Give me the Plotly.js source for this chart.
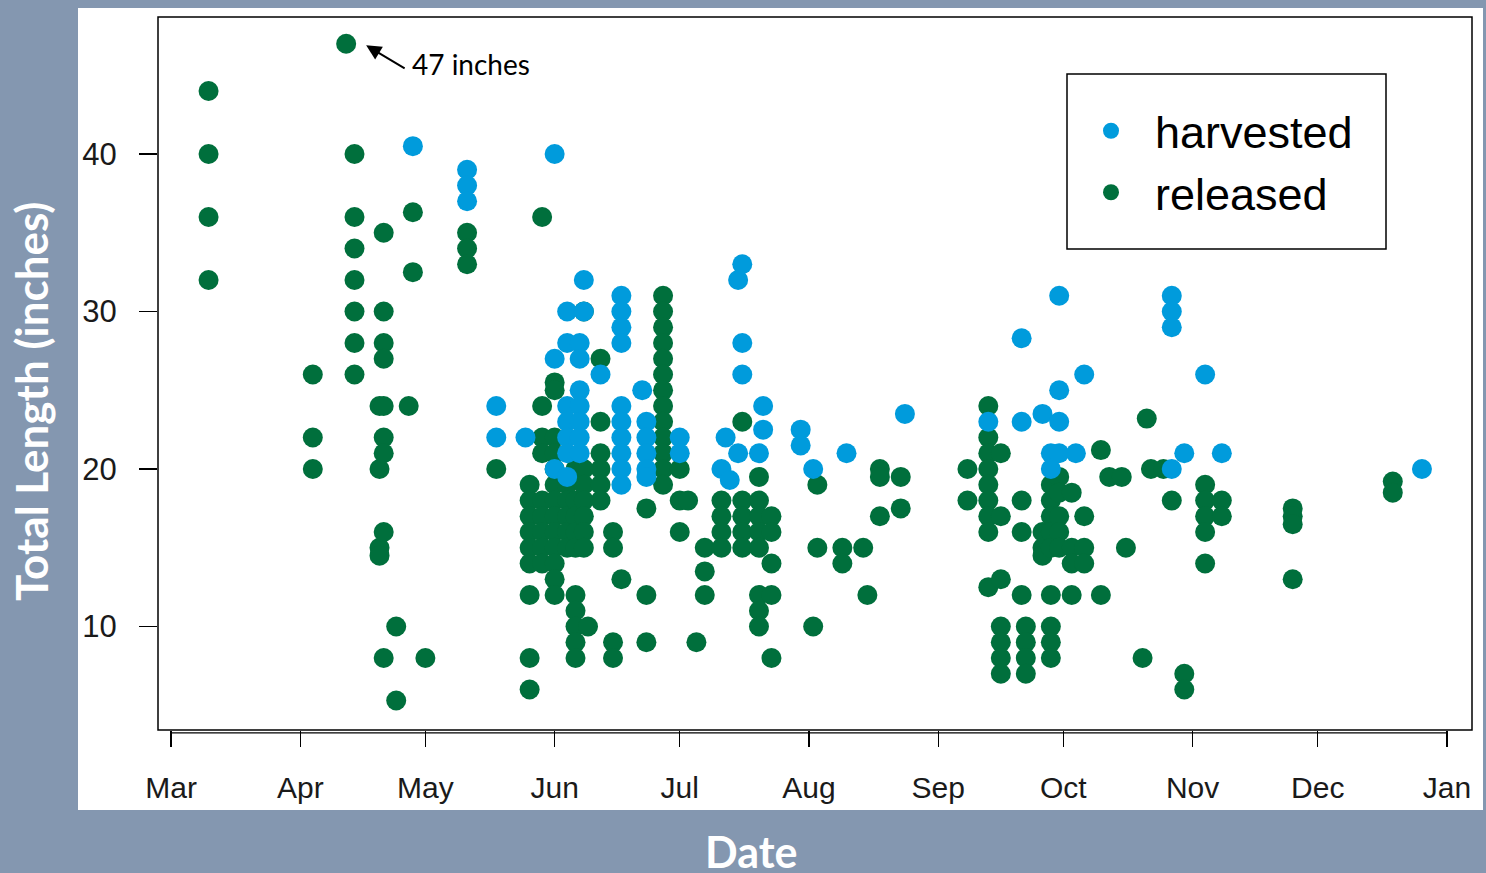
<!DOCTYPE html>
<html>
<head>
<meta charset="utf-8">
<script src="https://cdn.plot.ly/plotly-3.0.1.min.js"></script>
<style>
  html, body { margin: 0; padding: 0; background: #8497B0; }
  #chart { width: 1486px; height: 873px; }
</style>
</head>
<body>
<div id="chart"></div>
<script>
// ---- data ----
const releasedDays = ['2013-03-10','2013-04-04','2013-04-12','2013-04-14','2013-04-20','2013-04-21','2013-04-24','2013-04-27','2013-04-28','2013-05-01',
  '2013-05-11','2013-05-18','2013-05-26','2013-05-29','2013-06-01','2013-06-04','2013-06-06','2013-06-08','2013-06-09','2013-06-12',
  '2013-06-15','2013-06-17','2013-06-23','2013-06-27','2013-07-01','2013-07-03','2013-07-05','2013-07-07','2013-07-11','2013-07-16',
  '2013-07-20','2013-07-23','2013-08-02','2013-08-03','2013-08-09','2013-08-14','2013-08-15','2013-08-18','2013-08-23','2013-09-08',
  '2013-09-13','2013-09-16','2013-09-21','2013-09-22','2013-09-26','2013-09-28','2013-09-30','2013-10-03','2013-10-06','2013-10-10',
  '2013-10-12','2013-10-15','2013-10-16','2013-10-20','2013-10-21','2013-10-22','2013-10-25','2013-10-27','2013-10-30','2013-11-04',
  '2013-11-08','2013-11-25','2013-12-19'];
const releasedLengths = [
  [44,40,36,32],[26,22,20],[47],[40,36,34,32,30,28,26],[24,20,15,14.5],[35,30,28,27,24,22,21,16,8],[10,5.3],[24],[36.3,32.5],[8],
  [35,34,33],[20],[19,18,17,16,15,14,12,8,6],[36,24,22,21,18,17,16,15,14],[25.5,25,22,21,20,19,18,17,16,15,14,13,12],[19,18,17,16,15],[20,18,17,16,15,12,11,10,9,8],[30,20,19,18,17,16,15],[10],[27,23,21,20,19,18],
  [16,15,9,8],[13],[17.5,12,9],[31,30,29,28,27,26,25,24,23,22,21,20,19],[20,18,16],[18],[9],[15,13.5,12],[18,17,16,15],[23,18,17,16,15],
  [19.5,18,17,16,15,12,11,10],[17,16,14,12,8],[10],[19,15],[15,14],[15],[12],[20,19.5,17],[19.5,17.5],[20,18],
  [24,22,21,20,19,18,17,16,12.5],[21,17,13,10,9,8,7],[18,16,12],[10,9,8,7],[16,15,14.5],[19,18,17,16,15,12,10,9,8],[19.5,18.5,17,16,15],[18.5,15,14,12],[17,15,14],[21.2,12],
  [19.5],[19.5],[15],[8],[23.2],[20],[20],[18],[7,6],[19,18,17,16,14],
  [18,17],[17.5,17,16.5,13],[19.2,18.5]];

const harvestedDays = ['2013-04-28','2013-05-11','2013-05-18','2013-05-25','2013-06-01','2013-06-04','2013-06-07','2013-06-08','2013-06-12','2013-06-17',
  '2013-06-22','2013-06-23','2013-07-01','2013-07-11','2013-07-12','2013-07-13','2013-07-15','2013-07-16','2013-07-20','2013-07-21',
  '2013-07-30','2013-08-02','2013-08-10','2013-08-24','2013-09-13','2013-09-21','2013-09-26','2013-09-28','2013-09-30','2013-10-04',
  '2013-10-06','2013-10-27','2013-10-30','2013-11-04','2013-11-08','2013-12-26'];
const harvestedLengths = [
  [40.5],[39,38,37],[24,22],[22],[40,27,20],[30,28,24,23,22,21,19.5],[28,27,25,24,23,22,21],[32,30],[26],[31,30,29,28,24,23,22,21,20,19],
  [25],[23,22,21,20,19.5],[22,21],[20],[22],[19.3],[32,21],[33,28,26],[21],[24,22.5],
  [22.5,21.5],[20],[21],[23.5],[23],[28.3,23],[23.5],[21,20],[31,25,23,21],[21],
  [26],[31,30,29,20],[21],[26],[21],[20]];

const monthTicks = ['2013-03-01','2013-04-01','2013-05-01','2013-06-01','2013-07-01','2013-08-01','2013-09-01','2013-10-01','2013-11-01','2013-12-01','2014-01-01'];
const monthLabels = ['Mar','Apr','May','Jun','Jul','Aug','Sep','Oct','Nov','Dec','Jan'];
const lengthTicks = [10, 20, 30, 40];

function flatten(days, lens) {
  const x = [], y = [];
  days.forEach((d, i) => lens[i].forEach(v => { x.push(d); y.push(v); }));
  return {x, y};
}
const rel = flatten(releasedDays, releasedLengths);
const har = flatten(harvestedDays, harvestedLengths);

const GREEN = '#006F3C', BLUE = '#009BDC';

const traces = [
  {type: 'scatter', mode: 'markers', name: 'released', x: rel.x, y: rel.y,
   marker: {color: GREEN, size: 20, line: {width: 0}}},
  {type: 'scatter', mode: 'markers', name: 'harvested', x: har.x, y: har.y,
   marker: {color: BLUE, size: 20, line: {width: 0}}}
];

const W = 1314, H = 713, L = 158, T = 17;
const px = v => (v - L) / W;            // page x -> paper
const py = v => (T + H - v) / H;        // page y -> paper

const layout = {
  width: 1486, height: 873,
  margin: {l: L, r: 1486 - L - W, t: T, b: 873 - T - H, pad: 0},
  paper_bgcolor: '#8497B0',
  plot_bgcolor: '#FFFFFF',
  showlegend: true,
  legend: {
    x: px(1067), y: py(95), xanchor: 'left', yanchor: 'top',
    bgcolor: 'rgba(0,0,0,0)', borderwidth: 0, itemwidth: 78,
    traceorder: 'reversed',
    font: {family: 'Liberation Sans, Arial, sans-serif', size: 45, color: '#000'}
  },
  xaxis: {
    type: 'date', range: ['2013-02-25 21:00', '2014-01-07'],
    tickmode: 'array', tickvals: monthTicks, ticktext: monthLabels,
    ticks: 'outside', ticklen: 16, tickwidth: 1.5, tickcolor: '#000',
    ticklabelstandoff: 15,
    tickfont: {family: 'Liberation Sans, Arial, sans-serif', size: 30, color: '#1a1a1a'},
    showgrid: false, zeroline: false, showline: false, fixedrange: true
  },
  yaxis: {
    range: [3.43, 48.7],
    tickmode: 'array', tickvals: lengthTicks, ticktext: lengthTicks.map(String),
    ticks: 'outside', ticklen: 18, tickwidth: 1.5, tickcolor: '#000',
    ticklabelstandoff: 16,
    tickfont: {family: 'Liberation Sans, Arial, sans-serif', size: 31, color: '#1a1a1a'},
    showgrid: false, zeroline: false, showline: false, fixedrange: true
  },
  shapes: [
    {type: 'rect', xref: 'paper', yref: 'paper', x0: px(78), x1: px(1483), y0: py(810), y1: py(8),
     fillcolor: '#FFFFFF', line: {width: 0}, layer: 'below'},
    {type: 'rect', xref: 'paper', yref: 'paper', x0: 0, x1: 1, y0: 0, y1: 1,
     line: {color: '#000', width: 1.5}, layer: 'above'},
    {type: 'line', xref: 'x', yref: 'paper', x0: monthTicks[0], x1: monthTicks[monthTicks.length - 1], y0: -0.004, y1: -0.004,
     line: {color: '#000', width: 1.2}},
    {type: 'rect', xref: 'paper', yref: 'paper', x0: px(1067), x1: px(1386), y0: py(249), y1: py(74),
     line: {color: '#000', width: 1.5}, layer: 'above'}
  ],
  annotations: [
    {xref: 'paper', yref: 'paper', x: px(31), y: py(402), text: '<b>Total Length (inches)</b>', textangle: -90,
     showarrow: false, xanchor: 'center', yanchor: 'middle',
     font: {family: 'Lato, sans-serif', size: 44, color: '#FFFFFF'}},
    {xref: 'paper', yref: 'paper', x: px(751), y: py(851), text: '<b>Date</b>',
     showarrow: false, xanchor: 'center', yanchor: 'middle',
     font: {family: 'Lato, sans-serif', size: 43, color: '#FFFFFF'}},
    {xref: 'x', yref: 'y', x: '2013-04-16 19:00', y: 46.9, text: '', showarrow: true,
     ax: 40, ay: 24, arrowhead: 2, arrowsize: 1.5, arrowwidth: 2, arrowcolor: '#000', standoff: 0},
    {xref: 'x', yref: 'y', x: '2013-04-27 06:00', y: 45.7, text: '47 inches', showarrow: false,
     xanchor: 'left', yanchor: 'middle',
     font: {family: 'Lato, sans-serif', size: 28, color: '#000'}}
  ]
};

Plotly.newPlot('chart', traces, layout, {displayModeBar: false, staticPlot: true});
</script>
</body>
</html>
